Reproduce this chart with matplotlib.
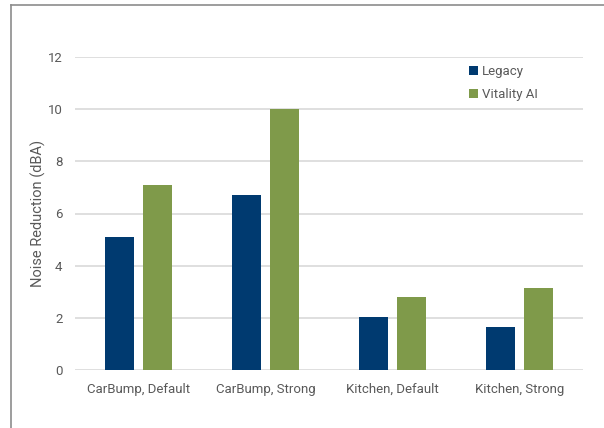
import numpy as np
import matplotlib.pyplot as plt
from matplotlib.lines import Line2D

categories = ['CarBump, Default', 'CarBump, Strong', 'Kitchen, Default', 'Kitchen, Strong']
legacy = [5.1, 6.7, 2.05, 1.65]
vitality = [7.1, 10.0, 2.8, 3.15]
yticks = [0, 2, 4, 6, 8, 10, 12]

plt.rcParams['font.family'] = ['Roboto', 'DejaVu Sans']

fig = plt.figure(figsize=(6.04, 4.28), dpi=100)
ax = fig.add_axes([75 / 604, 1 - 370 / 428, 508 / 604, 313 / 428])

x = np.arange(len(categories))
w = 0.228
off = 0.146
ax.bar(x - off, legacy, w, color='#003a70', label='Legacy', zorder=3)
ax.bar(x + off, vitality, w, color='#7f9a4a', label='Vitality AI', zorder=3)

ax.set_xlim(-0.5, 3.5)
ax.set_ylim(0, 12)
ax.set_yticks(yticks)
ax.set_xticks(x)
ax.set_xticklabels(categories)
ax.yaxis.grid(True, color='#d9d9d9', linewidth=1.2, zorder=0)
ax.set_axisbelow(True)
for s in ax.spines.values():
    s.set_visible(False)
ax.tick_params(length=0, colors='#595959', labelsize=9.5)
ax.tick_params(axis='y', pad=9)
ax.tick_params(axis='x', pad=9)
ax.set_ylabel('Noise Reduction (dBA)', color='#595959', fontsize=10.5, labelpad=1)

ax.legend(loc='upper left', bbox_to_anchor=(0.752, 1.012), frameon=False,
          fontsize=9.5, labelcolor='#595959', handlelength=0.7, handleheight=0.7,
          handletextpad=0.3, labelspacing=0.75)

# outer frame lines (top and left)
fig.add_artist(Line2D([11 / 604, 11 / 604], [0, 1 - 5 / 428], color='#8c8c8c', lw=1.2))
fig.add_artist(Line2D([11 / 604, 1], [1 - 5 / 428, 1 - 5 / 428], color='#8c8c8c', lw=1.2))

fig.savefig('out.png', dpi=100)
